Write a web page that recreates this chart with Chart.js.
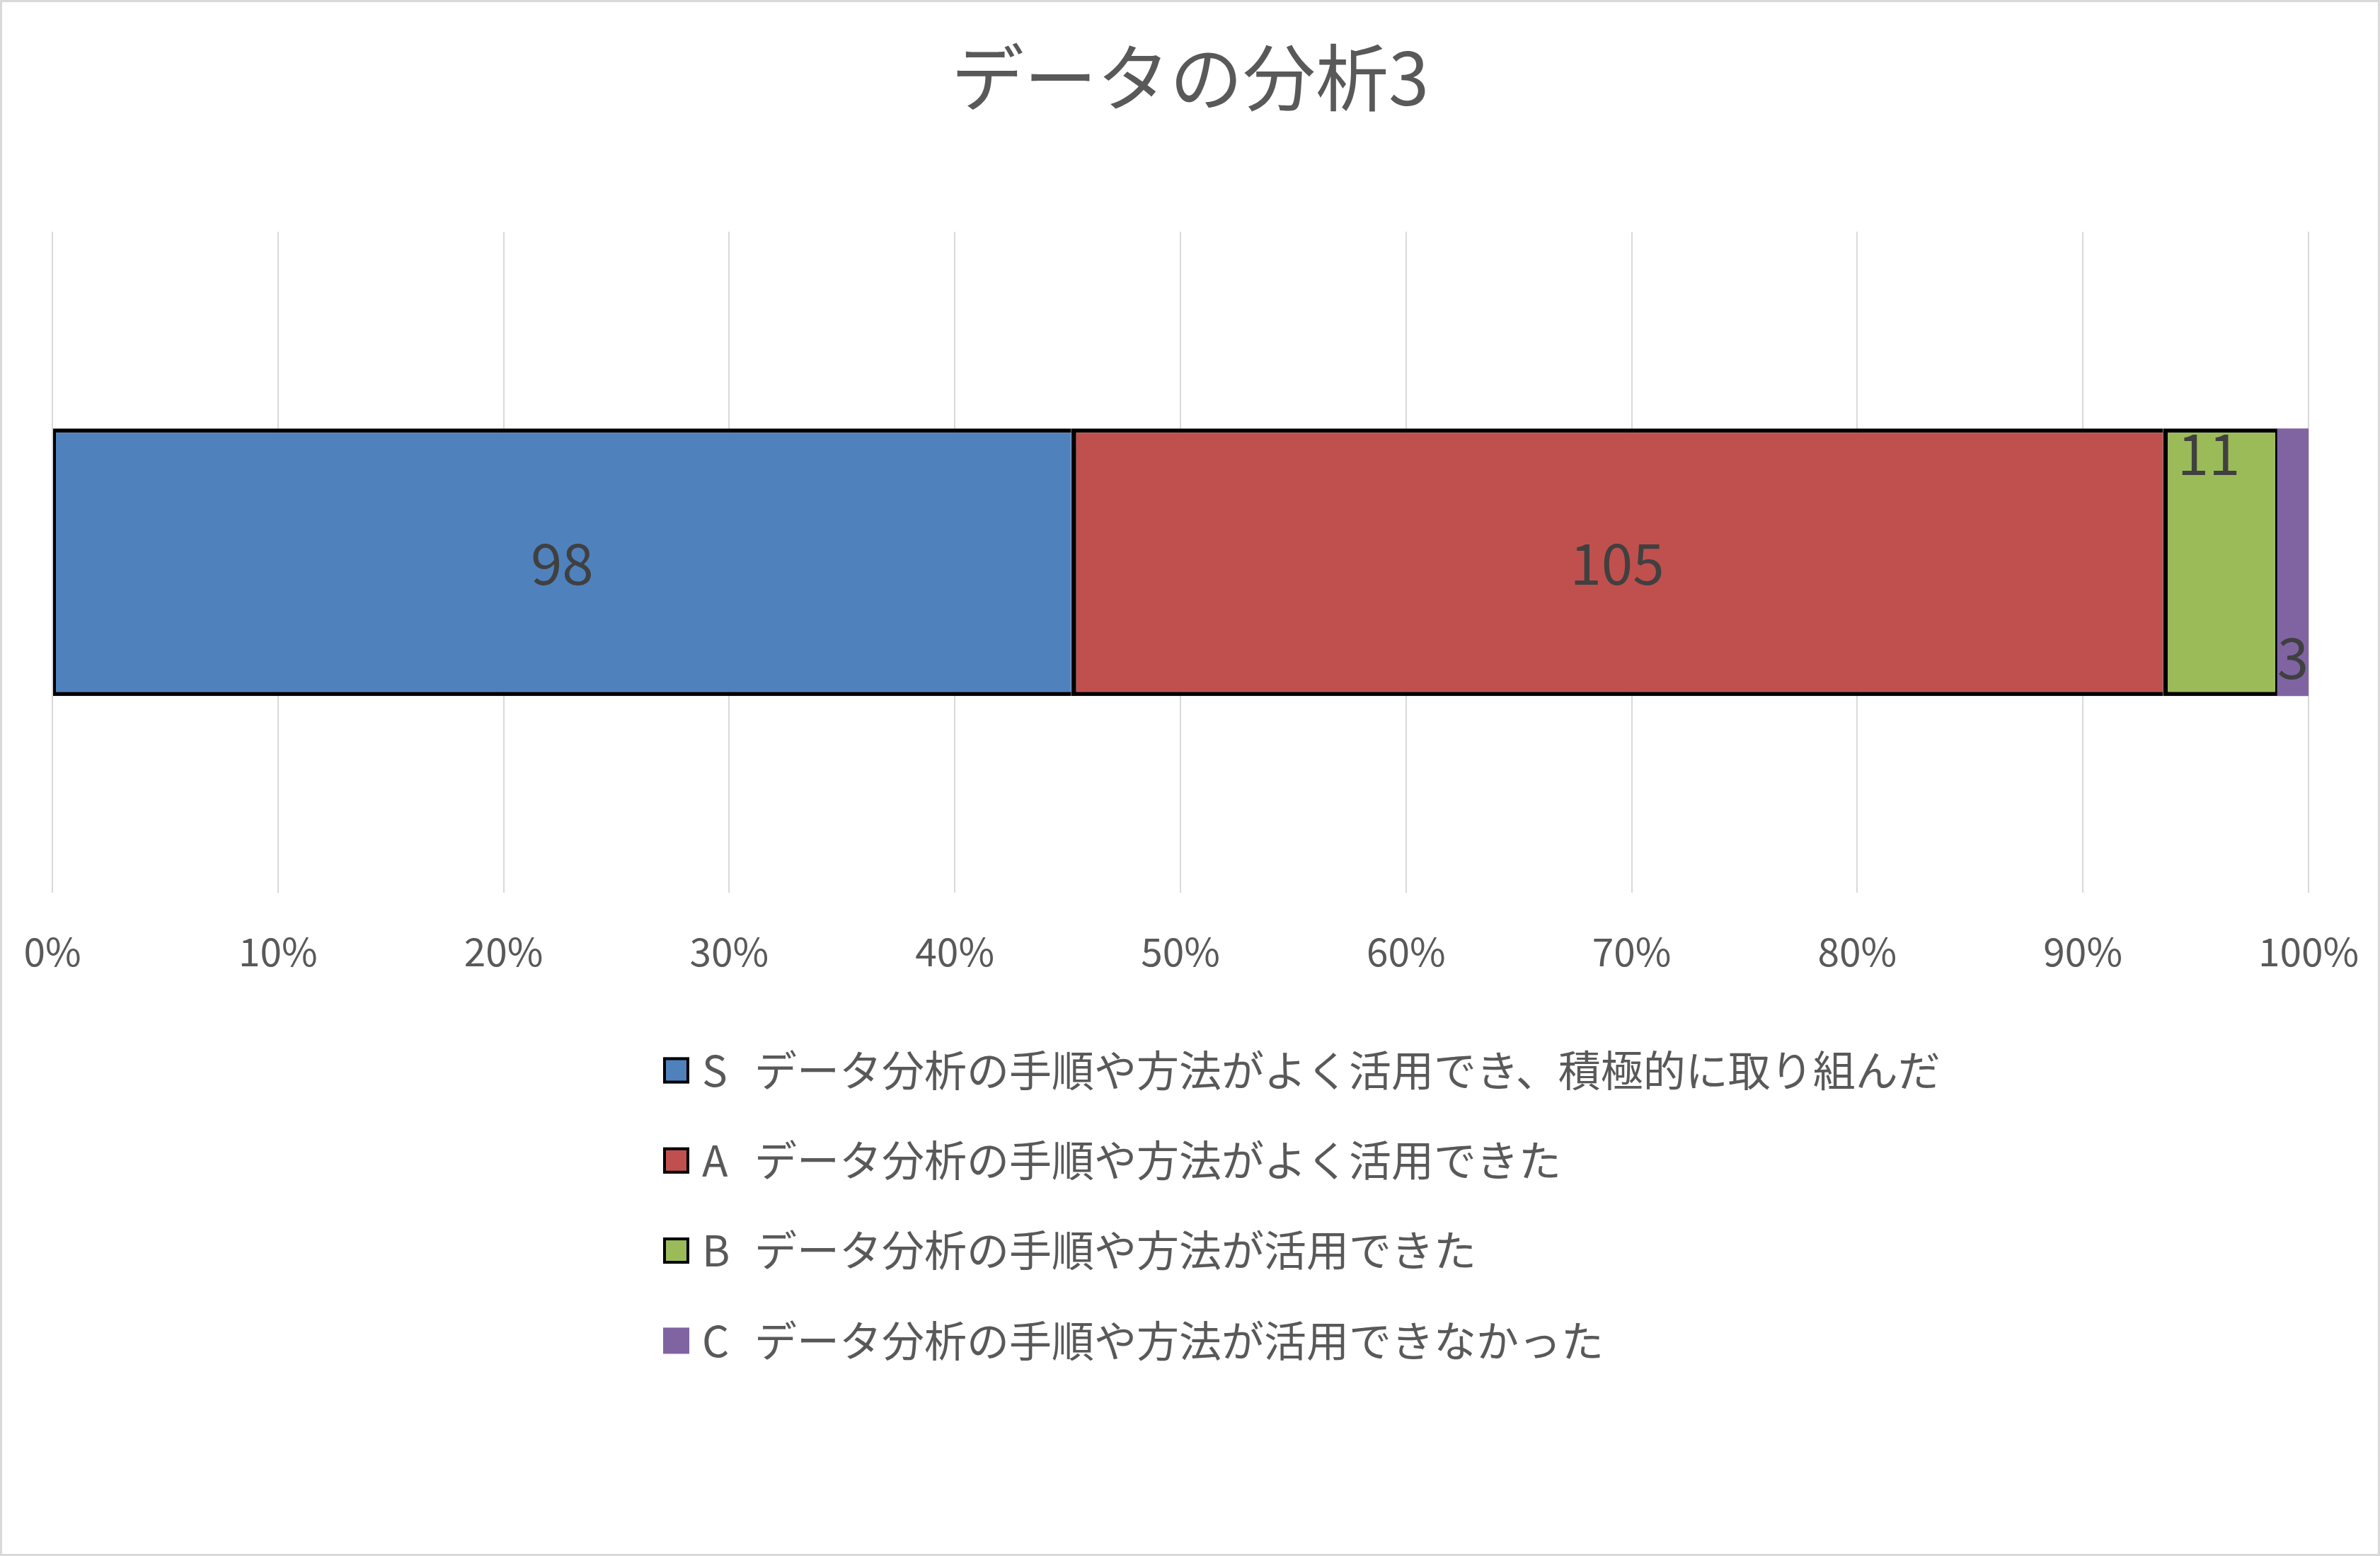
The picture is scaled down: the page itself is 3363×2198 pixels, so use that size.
<!DOCTYPE html>
<html>
<head>
<meta charset="utf-8">
<script src="https://cdn.jsdelivr.net/npm/chart.js@4.4.1/dist/chart.umd.min.js"></script>
<style>
html,body{margin:0;padding:0;background:#fff;}
#wrap{width:3363px;height:2198px;position:relative;}
canvas{display:block;}
</style>
</head>
<body>
<div id="wrap"><canvas id="c" width="3363" height="2198"></canvas></div>
<script>
// ---- data ----
const TITLE = 'データの分析3';
const CATEGORIES = [''];
const SERIES_NAMES = [
  'S　データ分析の手順や方法がよく活用でき、積極的に取り組んだ',
  'A　データ分析の手順や方法がよく活用できた',
  'B　データ分析の手順や方法が活用できた',
  'C　データ分析の手順や方法が活用できなかった'
];
const S_VALUES = [98];
const A_VALUES = [105];
const B_VALUES = [11];
const C_VALUES = [3];
const X_TICK_VALUES = [0, 10, 20, 30, 40, 50, 60, 70, 80, 90, 100];

// ---- styles ----
const FONT = '"Noto Sans CJK JP", "Noto Sans", sans-serif';
const COLORS = ['#4F81BD', '#C0504D', '#9BBB59', '#8064A2'];
const HAS_BORDER = [true, true, true, false];
const BORDER_WIDTHS = [
  {top: 6, bottom: 6, left: 4, right: 0},
  {top: 6, bottom: 6, left: 7, right: 0},
  {top: 6, bottom: 6, left: 7, right: 3},
  0
];
const LABEL_ANCHOR = ['center', 'center', 'top', 'bottom'];
const LABEL_DX = [0, 0, -16, 0];

const ALL_VALUES = [S_VALUES, A_VALUES, B_VALUES, C_VALUES];
const totals = CATEGORIES.map((_, j) => ALL_VALUES.reduce((s, arr) => s + arr[j], 0));

const datasets = ALL_VALUES.map((vals, i) => ({
  label: SERIES_NAMES[i],
  data: vals.map((v, j) => v / totals[j] * 100),
  counts: vals,
  backgroundColor: COLORS[i],
  borderColor: '#000000',
  borderWidth: BORDER_WIDTHS[i],
  borderSkipped: false,
  hasBorder: HAS_BORDER[i],
  labelAnchor: LABEL_ANCHOR[i],
  labelDx: LABEL_DX[i],
  barPercentage: 0.405,
  categoryPercentage: 1.0
}));

const frame = {
  id: 'frame',
  beforeDraw(chart) {
    const ctx = chart.ctx;
    ctx.save();
    ctx.fillStyle = '#ffffff';
    ctx.fillRect(0, 0, chart.width, chart.height);
    ctx.strokeStyle = '#d9d9d9';
    ctx.lineWidth = 3;
    ctx.strokeRect(1.5, 1.5, chart.width - 3, chart.height - 3);
    ctx.restore();
  }
};

const valueLabels = {
  id: 'valueLabels',
  afterDatasetsDraw(chart) {
    const ctx = chart.ctx;
    ctx.save();
    ctx.font = '80px ' + FONT;
    ctx.fillStyle = '#404040';
    ctx.textAlign = 'center';
    ctx.textBaseline = 'alphabetic';
    chart.data.datasets.forEach((ds, i) => {
      const meta = chart.getDatasetMeta(i);
      meta.data.forEach((bar, j) => {
        const p = bar.getProps(['x', 'y', 'base', 'height'], true);
        const cx = (p.x + p.base) / 2 + ds.labelDx;
        const top = p.y - p.height / 2;
        const bottom = p.y + p.height / 2;
        let y;
        if (ds.labelAnchor === 'top') y = top + 66;
        else if (ds.labelAnchor === 'bottom') y = bottom - 24;
        else y = p.y + 32;
        ctx.fillText(String(ds.counts[j]), cx, y);
      });
    });
    ctx.restore();
  }
};

const manualLegend = {
  id: 'manualLegend',
  afterDraw(chart) {
    const ctx = chart.ctx;
    const area = chart.chartArea;
    const boxX = 937, box = 37;
    const firstY = area.bottom + 251, gap = 127.3;
    ctx.save();
    ctx.font = '60px ' + FONT;
    ctx.textBaseline = 'middle';
    ctx.textAlign = 'left';
    chart.data.datasets.forEach((ds, i) => {
      const cy = firstY + i * gap;
      ctx.fillStyle = ds.backgroundColor;
      ctx.fillRect(boxX, cy - box / 2, box, box);
      if (ds.hasBorder) {
        ctx.lineWidth = 4;
        ctx.strokeStyle = '#000000';
        ctx.strokeRect(boxX + 2, cy - box / 2 + 2, box - 4, box - 4);
      }
      const parts = ds.label.split('　');
      ctx.fillStyle = '#595959';
      ctx.fillText(parts[0], boxX + 55, cy);
      ctx.fillText(parts.slice(1).join('　'), boxX + 129, cy);
    });
    ctx.restore();
  }
};

new Chart(document.getElementById('c'), {
  type: 'bar',
  data: { labels: CATEGORIES, datasets },
  plugins: [frame, valueLabels, manualLegend],
  options: {
    indexAxis: 'y',
    responsive: false,
    animation: false,
    devicePixelRatio: 1,
    layout: { padding: { left: 74, right: 74, top: 0, bottom: 821 } },
    plugins: {
      legend: { display: false },
      tooltip: { enabled: false },
      title: {
        display: true,
        text: TITLE,
        color: '#595959',
        font: { family: FONT, size: 103, weight: 'normal', lineHeight: 1.2 },
        padding: { top: 48, bottom: 156 }
      }
    },
    scales: {
      x: {
        stacked: true,
        min: 0,
        max: 100,
        afterBuildTicks(scale) { scale.ticks = X_TICK_VALUES.map(v => ({ value: v })); },
        ticks: {
          color: '#595959',
          font: { family: FONT, size: 55, lineHeight: 1.2 },
          padding: 0,
          maxRotation: 0,
          autoSkip: false,
          callback: (v) => v + '%'
        },
        grid: { color: '#d9d9d9', lineWidth: 2, drawTicks: true, tickLength: 50, tickColor: 'rgba(0,0,0,0)' },
        border: { display: false }
      },
      y: {
        stacked: true,
        position: 'right',
        display: true,
        ticks: { display: false },
        grid: { display: false },
        border: { display: false },
        afterFit(scale) { scale.width = 27; }
      }
    }
  }
});
</script>
</body>
</html>
